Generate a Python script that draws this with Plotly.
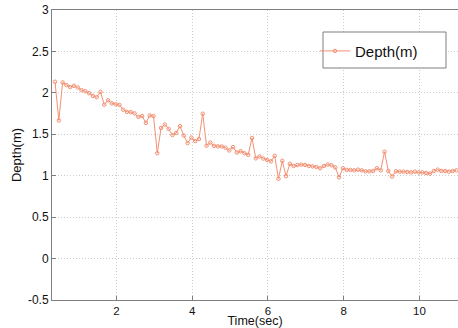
import plotly.graph_objects as go

time_sec = [0.38, 0.48, 0.58, 0.68, 0.78, 0.88, 0.98, 1.08, 1.18, 1.28,
            1.38, 1.48, 1.58, 1.68, 1.78, 1.88, 1.98, 2.08, 2.18, 2.28,
            2.38, 2.48, 2.58, 2.68, 2.78, 2.88, 2.98, 3.08, 3.18, 3.28,
            3.38, 3.48, 3.58, 3.68, 3.78, 3.88, 3.98, 4.08, 4.18, 4.28,
            4.38, 4.48, 4.58, 4.68, 4.78, 4.88, 4.98, 5.08, 5.18, 5.28,
            5.38, 5.48, 5.58, 5.68, 5.78, 5.88, 5.98, 6.08, 6.18, 6.28,
            6.38, 6.48, 6.58, 6.68, 6.78, 6.88, 6.98, 7.08, 7.18, 7.28,
            7.38, 7.48, 7.58, 7.68, 7.78, 7.88, 7.98, 8.08, 8.18, 8.28,
            8.38, 8.48, 8.58, 8.68, 8.78, 8.88, 8.98, 9.08, 9.18, 9.28,
            9.38, 9.48, 9.58, 9.68, 9.78, 9.88, 9.98, 10.08, 10.18, 10.28,
            10.38, 10.48, 10.58, 10.68, 10.78, 10.88, 10.98]

depth_m = [2.134, 1.667, 2.126, 2.094, 2.07, 2.085, 2.065, 2.033, 2.02, 1.996,
           1.963, 1.947, 2.012, 1.857, 1.91, 1.874, 1.862, 1.854, 1.797, 1.77,
           1.768, 1.752, 1.71, 1.72, 1.638, 1.728, 1.72, 1.272, 1.577, 1.618,
           1.565, 1.49, 1.516, 1.598, 1.484, 1.394, 1.46, 1.418, 1.443, 1.748,
           1.362, 1.40, 1.36, 1.354, 1.354, 1.338, 1.305, 1.345, 1.28, 1.296,
           1.272, 1.252, 1.455, 1.21, 1.232, 1.207, 1.19, 1.174, 1.24, 0.963,
           1.18, 0.996, 1.143, 1.118, 1.13, 1.134, 1.13, 1.118, 1.113, 1.106,
           1.09, 1.118, 1.134, 1.126, 1.10, 0.98, 1.09, 1.07, 1.07, 1.065,
           1.073, 1.065, 1.053, 1.053, 1.057, 1.09, 1.065, 1.29, 1.057, 0.99,
           1.053, 1.049, 1.049, 1.045, 1.04, 1.049, 1.04, 1.04, 1.033, 1.025,
           1.057, 1.073, 1.057, 1.057, 1.049, 1.057, 1.065]

y_ticks = [-0.5, 0, 0.5, 1, 1.5, 2, 2.5, 3]
y_labels = ["-0.5", "0", "0.5", "1", "1.5", "2", "2.5", "3"]
x_ticks = [2, 4, 6, 8, 10]
x_labels = ["2", "4", "6", "8", "10"]

line_color = "#f39174"
font = "Liberation Sans, Arial, Helvetica, sans-serif"

fig = go.Figure()
fig.add_trace(go.Scatter(
    x=time_sec, y=depth_m, mode="lines+markers", name="Depth(m)",
    line=dict(color=line_color, width=1),
    marker=dict(symbol="circle-open", size=3.5, color=line_color, line=dict(width=1)),
))

axis_common = dict(
    showline=True, linecolor="#7f7f7f", linewidth=1,
    showgrid=True, gridcolor="#cccccc", griddash="1px,2px", gridwidth=1,
    ticks="inside", ticklen=4, tickcolor="#7f7f7f",
    zeroline=False, tickfont=dict(family=font, size=12, color="#111"),
)

fig.update_layout(
    width=458, height=328,
    margin=dict(l=52, r=0, t=10, b=28),
    paper_bgcolor="white", plot_bgcolor="white",
    font=dict(family=font, size=12, color="#111"),
    xaxis=dict(range=[0.3, 11.02], tickvals=x_ticks, ticktext=x_labels, mirror=True,
               title=dict(text="Time(sec)", font=dict(size=12.5), standoff=3),
               **axis_common),
    yaxis=dict(range=[-0.5, 3], tickvals=y_ticks, ticktext=y_labels,
               title=dict(text="Depth(m)", font=dict(size=13), standoff=3),
               **axis_common),
    showlegend=True,
    legend=dict(x=(315 - 52) / 406, y=0.915, xanchor="left", yanchor="top",
                bgcolor="rgba(0,0,0,0)", borderwidth=0,
                font=dict(family=font, size=15, color="#111")),
    shapes=[dict(type="rect", xref="paper", yref="paper",
                 x0=(323 - 52) / 406, x1=(446 - 52) / 406,
                 y0=(300 - 68) / 290, y1=(300 - 32) / 290,
                 line=dict(color="#7f7f7f", width=1), fillcolor="white",
                 layer="above")],
)
fig.update_xaxes(tickfont=dict(size=11.5), ticklabelstandoff=0)

fig.write_html("out.html", config={"displayModeBar": False},
               post_script="document.body.style.margin='0';document.body.style.overflow='hidden';")
